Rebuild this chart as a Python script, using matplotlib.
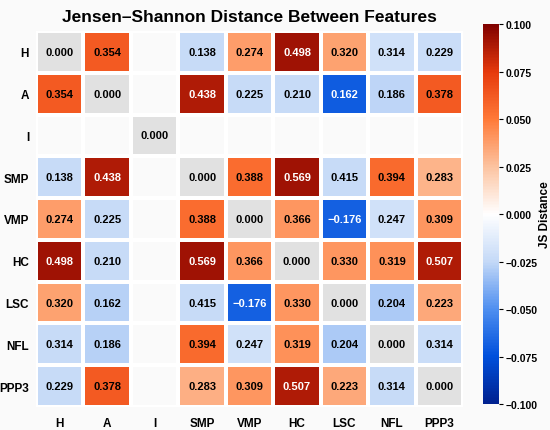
import matplotlib
matplotlib.use("Agg")
import matplotlib.pyplot as plt
import numpy as np
from matplotlib.colors import LinearSegmentedColormap, ListedColormap

OUTPUT_PATH = "out.png"

features = ["H", "A", "I", "SMP", "VMP", "HC", "LSC", "NFL", "PPP3"]

# printed distances (nan = empty cell)
nan = np.nan
js_values = [
    [0.000, 0.354, nan, 0.138, 0.274, 0.498, 0.320, 0.314, 0.229],
    [0.354, 0.000, nan, 0.438, 0.225, 0.210, 0.162, 0.186, 0.378],
    [nan, nan, 0.000, nan, nan, nan, nan, nan, nan],
    [0.138, 0.438, nan, 0.000, 0.388, 0.569, 0.415, 0.394, 0.283],
    [0.274, 0.225, nan, 0.388, 0.000, 0.366, -0.176, 0.247, 0.309],
    [0.498, 0.210, nan, 0.569, 0.366, 0.000, 0.330, 0.319, 0.507],
    [0.320, 0.162, nan, 0.415, -0.176, 0.330, 0.000, 0.204, 0.223],
    [0.314, 0.186, nan, 0.394, 0.247, 0.319, 0.204, 0.000, 0.314],
    [0.229, 0.378, nan, 0.283, 0.309, 0.507, 0.223, 0.314, 0.000],
]

# colour level of each cell
color_values = [
    [0.0, 0.062, nan, -0.024, 0.038, 0.092, 0.036, -0.020, -0.022],
    [0.062, 0.0, nan, 0.088, -0.024, -0.024, -0.070, -0.026, 0.062],
    [nan, nan, 0.0, nan, nan, nan, nan, nan, nan],
    [-0.024, 0.088, nan, 0.0, 0.055, 0.092, -0.024, 0.056, 0.030],
    [0.038, -0.024, nan, 0.055, 0.0, 0.040, -0.068, -0.020, 0.040],
    [0.092, -0.024, nan, 0.092, 0.040, 0.0, 0.040, 0.042, 0.088],
    [0.036, -0.028, nan, -0.024, -0.068, 0.040, 0.0, -0.030, 0.034],
    [-0.024, -0.028, nan, 0.056, -0.020, 0.042, -0.030, 0.0, -0.022],
    [-0.024, 0.062, nan, 0.032, 0.040, 0.088, 0.034, -0.024, 0.0],
]

plt.rcParams["font.family"] = ["Liberation Sans", "DejaVu Sans"]
plt.rcParams["font.weight"] = "bold"

cmap = LinearSegmentedColormap.from_list(
    "js",
    ["#00208f", "#0050dc", "#4f8ff0", "#c4d9f7", "#ffffff",
     "#fcc3a0", "#ff7a38", "#e63a0c", "#7f0000"],
)


def main() -> None:
    vals = np.array(js_values, dtype=float)
    cols = np.array(color_values, dtype=float)
    n = len(features)
    diag = np.eye(n, dtype=bool)

    fig = plt.figure(figsize=(5.5, 4.31), dpi=100, facecolor="#fafafa")
    ax = fig.add_axes([0.0655, 0.0534, 0.7765, 0.8724])
    ax.set_facecolor("#fafafa")

    shown = np.ma.masked_where(np.isnan(cols) | diag, cols)
    mesh = ax.pcolormesh(shown, cmap=cmap, vmin=-0.1, vmax=0.1,
                         edgecolors="white", linewidth=1.5)
    grey = np.ma.masked_where(~diag, np.ones((n, n)))
    ax.pcolormesh(grey, cmap=ListedColormap(["#e1e1e1"]),
                  edgecolors="white", linewidth=1.5)
    ax.set_xlim(0, n)
    ax.set_ylim(n, 0)

    for i in range(n):
        for j in range(n):
            if np.isnan(vals[i, j]):
                continue
            c = cols[i, j]
            txt_color = "white" if abs(c) > 0.065 else "black"
            ax.text(j + 0.5, i + 0.5, f"{vals[i, j]:.3f}".replace("-", "\u2212"),
                    ha="center", va="center", fontsize=8,
                    color=txt_color, fontweight="bold")

    ax.set_xticks(np.arange(n) + 0.5)
    ax.set_yticks(np.arange(n) + 0.5)
    ax.set_xticklabels(features, fontsize=8.5, fontweight="bold")
    ax.set_yticklabels(features, fontsize=8.5, fontweight="bold", rotation=0)
    ax.tick_params(axis="x", length=0, pad=7)
    ax.tick_params(axis="y", length=0, pad=5)
    for s in ax.spines.values():
        s.set_visible(False)

    ax.set_title("Jensen\u2013Shannon Distance Between Features",
                 fontsize=12.5, fontweight="bold", pad=7)

    cax = fig.add_axes([0.878, 0.060, 0.029, 0.882])
    cb = fig.colorbar(mesh, cax=cax)
    cb.set_ticks([-0.1, -0.075, -0.05, -0.025, 0.0, 0.025, 0.05, 0.075, 0.1])
    cb.ax.set_yticklabels([f"{t:.3f}".replace("-", "\u2212") for t in cb.get_ticks()],
                          fontsize=7.5, fontweight="bold")
    cb.ax.tick_params(length=3, width=0.8, pad=2)
    cb.outline.set_visible(False)
    cb.set_label("JS Distance", fontsize=8.5, fontweight="bold", labelpad=1)

    fig.savefig(OUTPUT_PATH, dpi=100, facecolor=fig.get_facecolor())
    plt.close(fig)


if __name__ == "__main__":
    main()
